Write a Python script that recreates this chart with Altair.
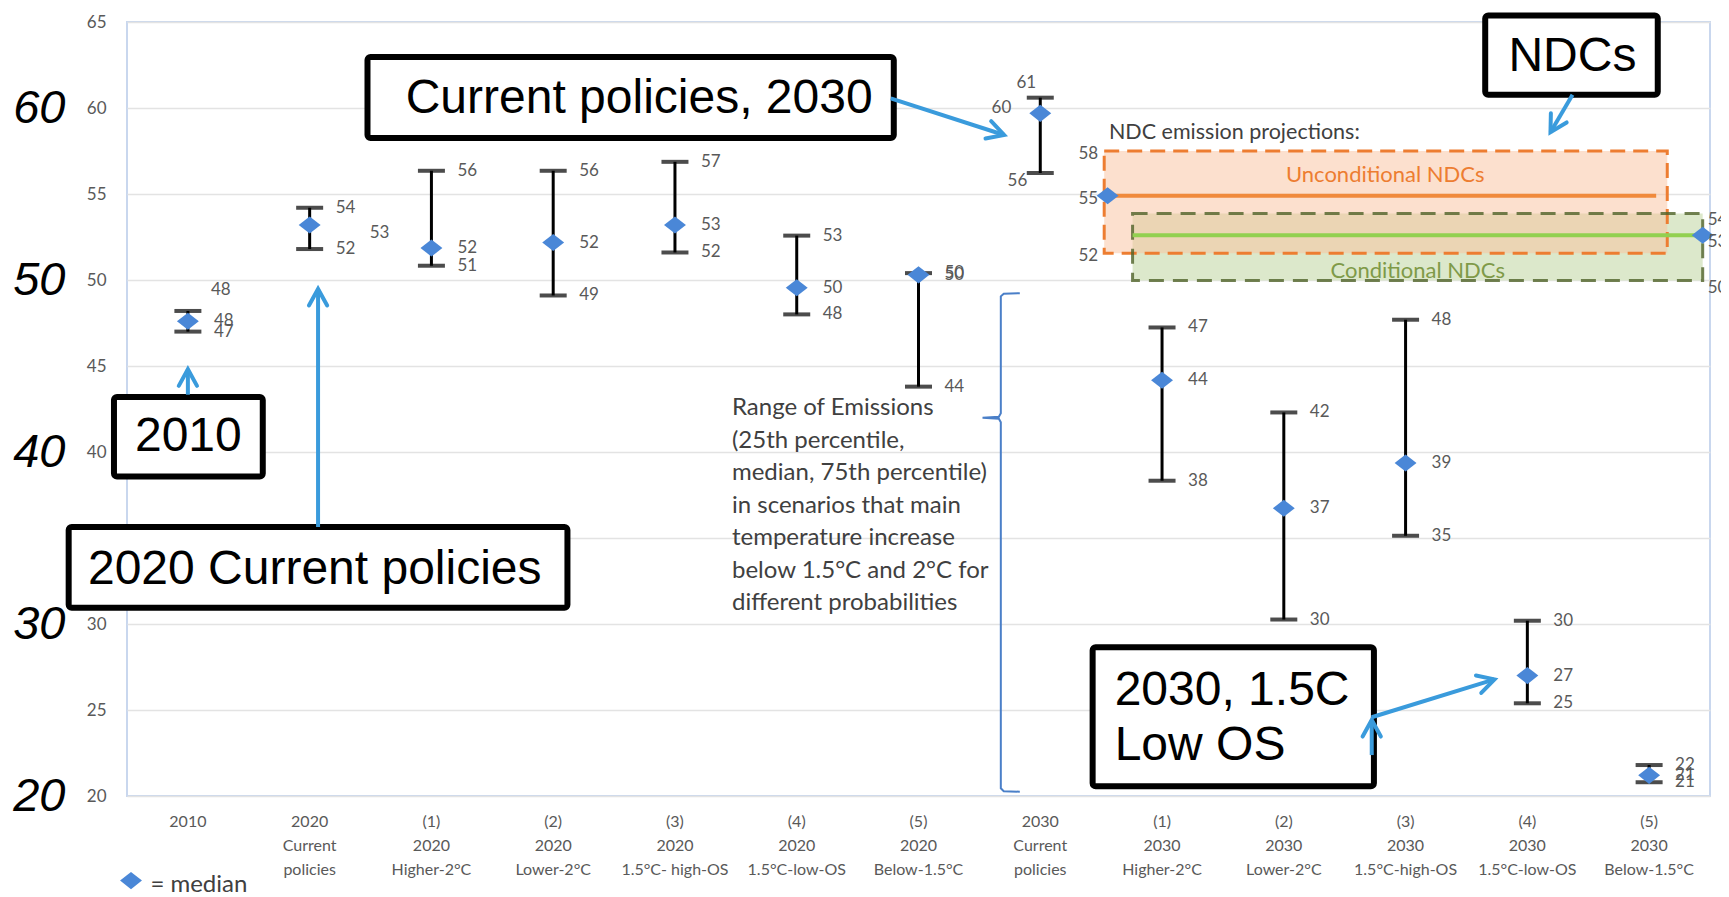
import altair as alt
import pandas as pd

# ---------------- data ----------------
categories = ["2010", "2020|Current|policies", "(1)|2020|Higher-2°C", "(2)|2020|Lower-2°C",
              "(3)|2020|1.5°C- high-OS", "(4)|2020|1.5°C-low-OS", "(5)|2020|Below-1.5°C",
              "2030|Current|policies", "(1)|2030|Higher-2°C", "(2)|2030|Lower-2°C",
              "(3)|2030|1.5°C-high-OS", "(4)|2030|1.5°C-low-OS", "(5)|2030|Below-1.5°C"]
low = [47.0, 51.8, 50.83, 49.1, 51.6, 48.0, 43.8, 56.22, 38.33, 30.26, 35.13, 25.39, 20.8]
median = [47.6, 53.2, 51.86, 52.18, 53.2, 49.55, 50.3, 59.69, 44.17, 36.73, 39.36, 27.0, 21.2]
high = [48.2, 54.2, 56.35, 56.35, 56.87, 52.58, 50.4, 60.6, 47.24, 42.3, 47.69, 30.19, 21.8]

y_ticks = [20, 25, 30, 35, 40, 45, 50, 55, 60, 65]
big_ticks = [20, 30, 40, 50, 60]
y_min = 20
y_max = 65

ndc_names = ["Unconditional NDCs", "Conditional NDCs"]
ndc_low = [51.55, 49.97]
ndc_mid = [54.9, 52.6]
ndc_high = [57.5, 53.87]
ndc_box_x0 = [7.525, 7.758]
ndc_box_x1 = [12.149, 12.44]
ndc_line_x0 = [7.553, 7.758]
ndc_line_x1 = [12.058, 12.44]
ndc_marker_x = [7.553, 12.44]
ndc_title_x = [9.833, 10.10]
ndc_title_y = [56.09, 50.51]
ndc_heading = "NDC emission projections:"
ndc_heading_x = 7.564
ndc_heading_y = 58.55

callout_text = ["Current policies, 2030", "NDCs", "2010", "2020 Current policies", "2030, 1.5C\nLow OS"]
callout_x0 = [1.475, 10.654, -0.607, -0.979, 7.430]
callout_x1 = [5.797, 12.071, 0.615, 3.117, 9.740]
callout_y0 = [58.26, 60.77, 38.58, 30.95, 20.57]
callout_y1 = [62.97, 65.38, 43.2, 35.64, 28.65]
callout_tx = [3.706, 11.37, 0.004, 1.042, 7.611]
callout_ty = [60.51, 62.95, 40.87, 33.14, 26.08]
callout_align = ["center", "center", "center", "center", "left"]

arrow_x0 = [0.0, 1.069, 5.772, 11.371, 9.722, 9.722]
arrow_y0 = [43.33, 35.64, 60.56, 60.77, 24.58, 22.38]
arrow_x1 = [0.0, 1.069, 6.703, 11.19, 10.730, 9.722]
arrow_y1 = [44.81, 49.48, 58.43, 58.59, 26.78, 24.42]
arrow_angle = [0, 0, 108, 210, 73, 0]

brace_x = [6.832, 6.70, 6.676, 6.676, 6.66, 6.526, 6.66, 6.676, 6.676, 6.70, 6.832]
brace_y = [49.23, 49.20, 49.05, 42.25, 42.05, 41.99, 41.93, 41.73, 20.45, 20.28, 20.25]

range_text = ("Range of Emissions\n(25th percentile,\nmedian, 75th percentile)\n"
              "in scenarios that main\ntemperature increase\nbelow 1.5°C and 2°C for\n"
              "different probabilities")
range_x = 4.468
range_y = 42.54

legend_text = "= median"
legend_marker = (-0.467, 15.08)
legend_text_pos = (-0.308, 14.83)

# ---------------- styling ----------------
FONT = "Lato"
GRAY = "#595959"
BLUE = "#4a87d7"
ARROW = "#3a9bdc"
DIAMOND = "M-1,0L0,-0.78L1,0L0,0.78Z"
CHEVRON = "M-0.55,1L0,0L0.55,1"

N = len(categories)
idx = list(range(N))

xscale = alt.Scale(domain=[-0.5, 12.5], nice=False, zero=False)
yscale = alt.Scale(domain=[y_min, y_max], nice=False, zero=False)


def X(f):
    return alt.X(f, type="quantitative", scale=xscale, axis=None)


def X2(f):
    return alt.X2(f)


def Y(f):
    return alt.Y(f, type="quantitative", scale=yscale, axis=None)


bars = pd.DataFrame({"i": idx, "low": low, "median": median, "high": high,
                     "cat": categories, "base": [y_min] * N})
labels = pd.concat([
    pd.DataFrame({"i": idx, "v": low, "kind": "low"}),
    pd.DataFrame({"i": idx, "v": median, "kind": "median"}),
    pd.DataFrame({"i": idx, "v": high, "kind": "high"}),
])

ndc = pd.DataFrame({"name": ndc_names, "low": ndc_low, "mid": ndc_mid, "high": ndc_high,
                    "bx0": ndc_box_x0, "bx1": ndc_box_x1, "lx0": ndc_line_x0, "lx1": ndc_line_x1,
                    "mx": ndc_marker_x, "tx": ndc_title_x, "ty": ndc_title_y})
ndc_lab = pd.concat([
    pd.DataFrame({"name": ndc_names, "x": [ndc_box_x0[0], ndc_marker_x[1]], "v": ndc_low}),
    pd.DataFrame({"name": ndc_names, "x": [ndc_box_x0[0], ndc_marker_x[1]], "v": ndc_mid}),
    pd.DataFrame({"name": ndc_names, "x": [ndc_box_x0[0], ndc_marker_x[1]], "v": ndc_high}),
])

callouts = pd.DataFrame({"t": callout_text, "x0": callout_x0, "x1": callout_x1, "y0": callout_y0,
                         "y1": callout_y1, "tx": callout_tx, "ty": callout_ty, "al": callout_align})
arrows = pd.DataFrame({"x0": arrow_x0, "y0": arrow_y0, "x1": arrow_x1, "y1": arrow_y1, "a": arrow_angle})
brace = pd.DataFrame({"x": brace_x, "y": brace_y, "k": list(range(len(brace_x)))})

UNC = "datum.name == 'Unconditional NDCs'"
CON = "datum.name == 'Conditional NDCs'"

# ---------------- layers ----------------
base_rule = alt.Chart(bars).mark_rule(color="black", strokeWidth=3).encode(
    x=alt.X("i:Q", scale=xscale, axis=alt.Axis(
        values=idx, labels=False, title=None, grid=False, ticks=False, domain=True,
        domainColor="#bfbfbf", domainWidth=2)),
    y=alt.Y("low:Q", scale=yscale, axis=alt.Axis(
        values=y_ticks, orient="left", title=None, grid=True, gridColor="#e3e3e3", gridWidth=1.5,
        ticks=False, domain=False, labelColor=GRAY, labelFont=FONT, labelFontSize=17,
        labelPadding=21, labelOverlap=False, labelFlush=False)),
    y2="high:Q",
)

big_axis = alt.Chart(bars).mark_point(opacity=0).encode(
    x=X("i"),
    y=alt.Y("median:Q", scale=yscale, axis=alt.Axis(
        values=big_ticks, orient="left", title=None, grid=False, ticks=False, domain=False,
        labelColor="black", labelFont="Liberation Sans", labelFontStyle="italic", labelFontSize=47,
        labelPadding=62, labelOverlap=False, labelFlush=False, labelBaseline="middle")),
)

x_labels = alt.Chart(bars).mark_text(
    align="center", baseline="top", dy=18, lineBreak="|", lineHeight=24,
    font=FONT, fontSize=16, color=GRAY).encode(x=X("i"), y=Y("base"), text="cat:N")

caps_low = alt.Chart(bars).mark_tick(orient="horizontal", size=27, thickness=4, color="black").encode(
    x=X("i"), y=Y("low"))
caps_high = alt.Chart(bars).mark_tick(orient="horizontal", size=27, thickness=4, color="black").encode(
    x=X("i"), y=Y("high"))
diamonds = alt.Chart(bars).mark_point(shape=DIAMOND, filled=True, size=480, color=BLUE, opacity=1).encode(
    x=X("i"), y=Y("median"))

lab_common = dict(font=FONT, fontSize=17, color=GRAY, baseline="middle")
lab_enc = dict(x=X("i"), y=Y("v"), text=alt.Text("v:Q", format=".0f"))
lab_default = alt.Chart(labels).transform_filter(
    "datum.i != 7 && !(datum.i == 0 && datum.kind == 'high') && !(datum.i == 1 && datum.kind == 'median')"
).mark_text(align="left", dx=26, **lab_common).encode(**lab_enc)
lab_2010_high = alt.Chart(labels).transform_filter("datum.i == 0 && datum.kind == 'high'").mark_text(
    align="left", dx=23, dy=-21, **lab_common).encode(**lab_enc)
lab_cp20_med = alt.Chart(labels).transform_filter("datum.i == 1 && datum.kind == 'median'").mark_text(
    align="left", dx=60, dy=8, **lab_common).encode(**lab_enc)
lab_cp30_high = alt.Chart(labels).transform_filter("datum.i == 7 && datum.kind == 'high'").mark_text(
    align="center", dx=-14, dy=-15, **lab_common).encode(**lab_enc)
lab_cp30_med = alt.Chart(labels).transform_filter("datum.i == 7 && datum.kind == 'median'").mark_text(
    align="right", dx=-29, dy=-5, **lab_common).encode(**lab_enc)
lab_cp30_low = alt.Chart(labels).transform_filter("datum.i == 7 && datum.kind == 'low'").mark_text(
    align="right", dx=-13, dy=8, **lab_common).encode(**lab_enc)

# NDC boxes
box_enc = dict(x=X("bx0"), x2=X2("bx1"), y=Y("low"), y2=alt.Y2("high"))
green_fill = alt.Chart(ndc).transform_filter(CON).mark_rect(fill="#dce8cb").encode(**box_enc)
orange_fill = alt.Chart(ndc).transform_filter(UNC).mark_rect(fill="#f9c19d", fillOpacity=0.5).encode(**box_enc)
title_common = dict(font=FONT, fontSize=22, baseline="middle", align="center")
unc_title = alt.Chart(ndc).transform_filter(UNC).mark_text(color="#ed7d31", **title_common).encode(
    x=X("tx"), y=Y("ty"), text="name:N")
con_title = alt.Chart(ndc).transform_filter(CON).mark_text(color="#7f9a48", **title_common).encode(
    x=X("tx"), y=Y("ty"), text="name:N")
orange_stroke = alt.Chart(ndc).transform_filter(UNC).mark_rect(
    fill=None, stroke="#ed7d31", strokeWidth=3, strokeDash=[15, 8]).encode(**box_enc)
green_stroke = alt.Chart(ndc).transform_filter(CON).mark_rect(
    fill=None, stroke="#4f6228", strokeOpacity=0.8, strokeWidth=3, strokeDash=[15, 9]).encode(**box_enc)
line_enc = dict(x=X("lx0"), x2=X2("lx1"), y=Y("mid"))
unc_line = alt.Chart(ndc).transform_filter(UNC).mark_rule(strokeWidth=4, color="#f08a3c").encode(**line_enc)
con_line = alt.Chart(ndc).transform_filter(CON).mark_rule(strokeWidth=4, color="#92d050").encode(**line_enc)
ndc_diamonds = alt.Chart(ndc).mark_point(shape=DIAMOND, filled=True, size=480, color=BLUE, opacity=1).encode(
    x=X("mx"), y=Y("mid"))
ndc_lab_left = alt.Chart(ndc_lab).transform_filter(UNC).mark_text(
    align="right", dx=-6, dy=3, **lab_common).encode(x=X("x"), y=Y("v"), text=alt.Text("v:Q", format=".0f"))
ndc_lab_right = alt.Chart(ndc_lab).transform_filter(CON).mark_text(
    align="left", dx=5, dy=7, **lab_common).encode(x=X("x"), y=Y("v"), text=alt.Text("v:Q", format=".0f"))
ndc_head = alt.Chart(pd.DataFrame({"t": [ndc_heading], "x": [ndc_heading_x], "y": [ndc_heading_y]})).mark_text(
    align="left", baseline="middle", font=FONT, fontSize=21.5, color="#404040").encode(
    x=X("x"), y=Y("y"), text="t:N")

# brace and range note
brace_line = alt.Chart(brace).mark_line(color="#4a7fc8", strokeWidth=2).encode(
    x=X("x"), y=Y("y"), order="k:Q")
range_note = alt.Chart(pd.DataFrame({"t": [range_text], "x": [range_x], "y": [range_y]})).mark_text(
    align="left", baseline="middle", lineBreak="\n", lineHeight=32.5, font=FONT, fontSize=24,
    color="#404040").encode(x=X("x"), y=Y("y"), text="t:N")

# callouts
call_box = alt.Chart(callouts).mark_rect(fill="white", stroke="black", strokeWidth=6, cornerRadius=3).encode(
    x=X("x0"), x2=X2("x1"), y=Y("y0"), y2=alt.Y2("y1"))
call_text_c = alt.Chart(callouts).transform_filter("datum.al == 'center'").mark_text(
    align="center", baseline="middle", font="Liberation Sans", fontSize=48, color="black").encode(
    x=X("tx"), y=Y("ty"), text="t:N")
call_text_l = alt.Chart(callouts).transform_filter("datum.al == 'left'").mark_text(
    align="left", baseline="middle", font="Liberation Sans", fontSize=48, color="black",
    lineBreak="\n", lineHeight=55).encode(x=X("tx"), y=Y("ty"), text="t:N")

arrow_lines = alt.Chart(arrows).mark_rule(color=ARROW, strokeWidth=4).encode(
    x=X("x0"), x2=X2("x1"), y=Y("y0"), y2=alt.Y2("y1"))
arrow_heads = alt.Chart(arrows).mark_point(shape=CHEVRON, filled=False, size=1100, stroke=ARROW,
                                           strokeWidth=4, opacity=1, strokeCap="round").encode(
    x=X("x1"), y=Y("y1"), angle=alt.Angle("a:Q", scale=None))

legend_d = alt.Chart(pd.DataFrame({"x": [legend_marker[0]], "y": [legend_marker[1]]})).mark_point(
    shape=DIAMOND, filled=True, size=480, color=BLUE, opacity=1).encode(x=X("x"), y=Y("y"))
legend_t = alt.Chart(pd.DataFrame({"t": [legend_text], "x": [legend_text_pos[0]], "y": [legend_text_pos[1]]})).mark_text(
    align="left", baseline="middle", font=FONT, fontSize=24, color="#404040").encode(
    x=X("x"), y=Y("y"), text="t:N")

chart = alt.layer(
    base_rule, big_axis, x_labels,
    green_fill, orange_fill, unc_title, con_title, orange_stroke, green_stroke, unc_line, con_line,
    ndc_diamonds, ndc_lab_left, ndc_lab_right, ndc_head,
    brace_line, range_note,
    caps_low, caps_high, diamonds,
    lab_default, lab_2010_high, lab_cp20_med, lab_cp30_high, lab_cp30_med, lab_cp30_low,
    call_box, call_text_c, call_text_l, arrow_lines, arrow_heads,
    legend_d, legend_t,
).resolve_scale(x="shared", y="shared").resolve_axis(y="independent").properties(
    width=1583, height=774,
    autosize=alt.AutoSizeParams(type="none"),
    padding={"left": 119, "top": 14, "right": 11, "bottom": 97},
    background="white",
).configure_view(stroke="#c9d7ee", strokeWidth=2)

chart.save("out.html", embed_options={"renderer": "svg", "actions": False})
